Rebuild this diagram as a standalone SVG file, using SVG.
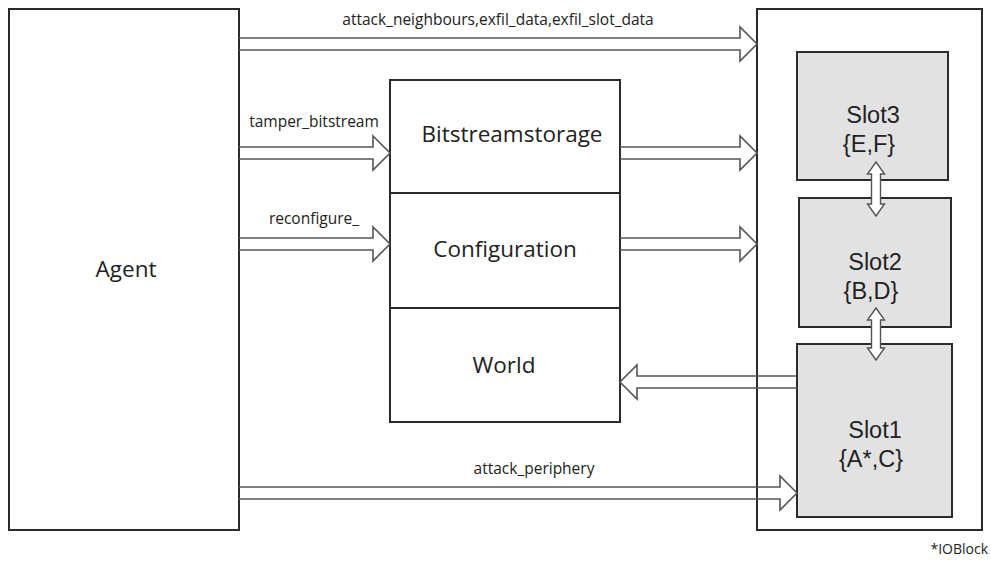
<svg xmlns="http://www.w3.org/2000/svg" width="991" height="563" viewBox="0 0 991 563">
<style>
.box{fill:none;stroke:#2b2b2b;stroke-width:2}
.slot{fill:#e2e2e2;stroke:#2b2b2b;stroke-width:2}
.arr{fill:none;stroke:#555;stroke-width:1.6;stroke-linejoin:miter}
.darr{fill:#fff;stroke:#555;stroke-width:1.4}
.big{font-family:"Open Sans","Liberation Sans",sans-serif;font-size:22.5px;fill:#222;text-anchor:middle}
.st{font-family:"Liberation Sans",Arial,sans-serif;font-size:23.5px;fill:#222;text-anchor:middle}
.lbl{font-family:"Open Sans","Liberation Sans",sans-serif;font-size:15.5px;fill:#222;text-anchor:middle}
</style>
<rect width="991" height="563" fill="#fff"/>
<g id="agent">
<rect class="box" x="9" y="9" width="230" height="521"/>
<text class="big" x="126" y="277">Agent</text>
</g>
<g id="bitstreamstorage">
<rect class="box" x="390" y="80" width="230" height="113"/>
<text class="big" x="512" y="142">Bitstreamstorage</text>
</g>
<g id="configuration">
<rect class="box" x="390" y="193" width="230" height="115"/>
<text class="big" x="505" y="257">Configuration</text>
</g>
<g id="world">
<rect class="box" x="390" y="308" width="230" height="114"/>
<text class="big" x="504" y="373">World</text>
</g>
<g id="ioblock">
<rect class="box" x="757" y="9" width="225" height="521"/>
</g>
<g id="slot3">
<rect class="slot" x="797" y="52" width="151" height="128"/>
<text class="st" x="873" y="123">Slot3</text>
<text class="st" x="869" y="152">{E,F}</text>
</g>
<g id="slot2">
<rect class="slot" x="799" y="198" width="152" height="129"/>
<text class="st" x="875" y="270">Slot2</text>
<text class="st" x="871" y="299">{B,D}</text>
</g>
<g id="slot1">
<rect class="slot" x="797" y="344" width="155" height="173"/>
<text class="st" x="875" y="438">Slot1</text>
<text class="st" x="871" y="467">{A*,C}</text>
</g>
<text class="lbl" x="988" y="554" style="text-anchor:end;font-size:14px">*IOBlock</text>
<g id="connectors">
<path class="arr" d="M239,38 H740 V27 L757,44 L740,61 V50 H239"/>
<text class="lbl" x="498" y="25">attack_neighbours,exfil_data,exfil_slot_data</text>
<path class="arr" d="M239,147 H373 V136 L390,153 L373,170 V159 H239"/>
<text class="lbl" x="314" y="127">tamper_bitstream</text>
<path class="arr" d="M239,238 H373 V227 L390,244 L373,261 V250 H239"/>
<text class="lbl" x="314" y="224">reconfigure_</text>
<path class="arr" d="M620,147 H740 V136 L757,153 L740,170 V159 H620"/>
<path class="arr" d="M620,238 H740 V227 L757,244 L740,261 V250 H620"/>
<path class="arr" d="M797,376 H637 V365 L620,382 L637,399 V388 H797"/>
<path class="arr" d="M239,487 H780 V476 L797,493 L780,510 V499 H239"/>
<text class="lbl" x="534" y="474">attack_periphery</text>
<path class="darr" d="M876,162 L884.5,174 H880.5 V204 H884.5 L876,216 L867.5,204 H871.5 V174 H867.5 Z"/>
<path class="darr" d="M876,308 L884.5,320 H880.5 V348 H884.5 L876,360 L867.5,348 H871.5 V320 H867.5 Z"/>
</g>
</svg>
